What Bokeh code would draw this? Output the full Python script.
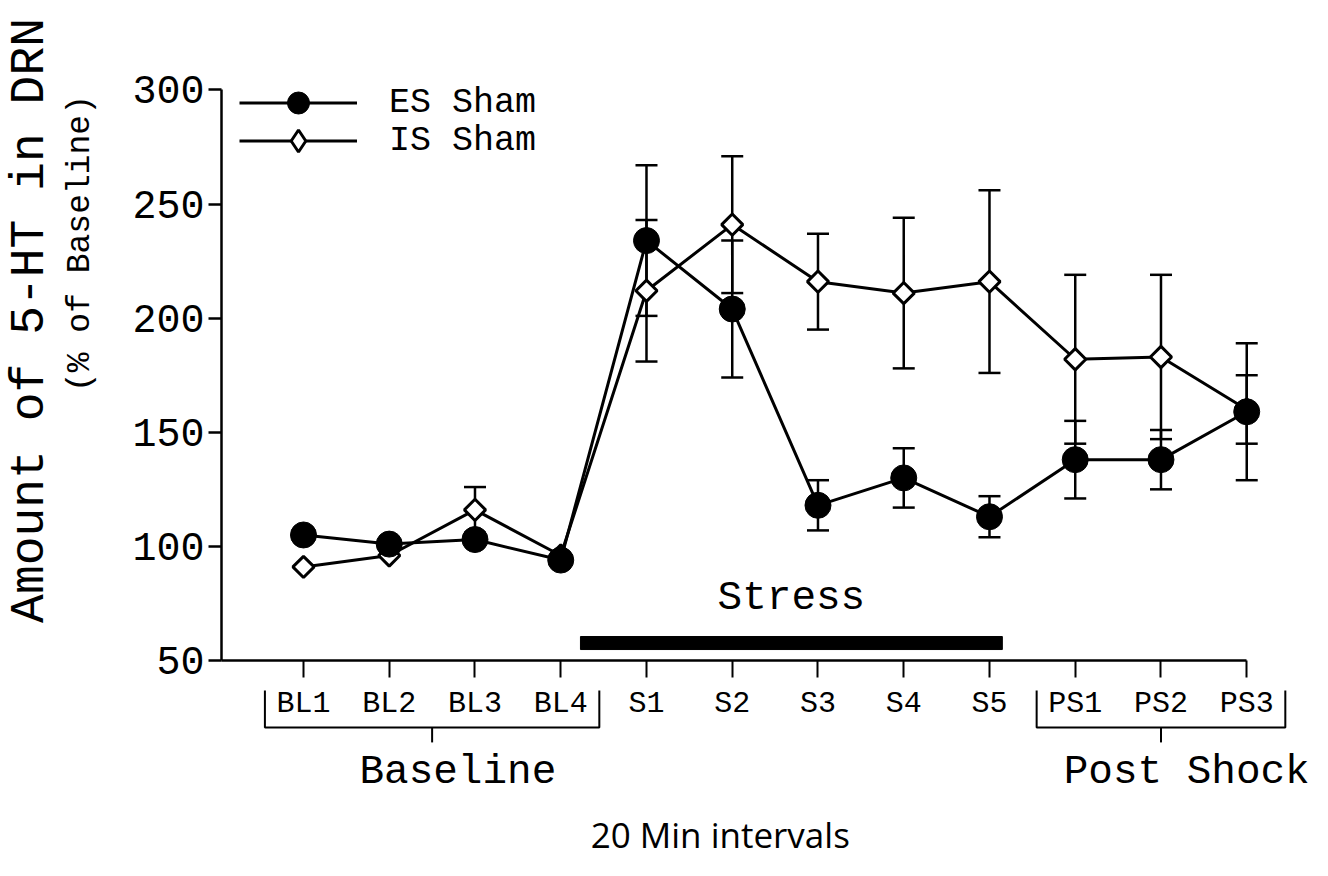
import numpy as np
from bokeh.plotting import figure
from bokeh.models import (ColumnDataSource, Range1d, FixedTicker, Whisker, TeeHead,
                          Legend, LegendItem)
from bokeh.core.properties import value
from bokeh.embed import file_html
from bokeh.resources import INLINE

# ---------------- data ----------------
categories = ["BL1", "BL2", "BL3", "BL4", "S1", "S2", "S3", "S4", "S5", "PS1", "PS2", "PS3"]
es_mean = [105, 101, 103, 94, 234, 204, 118, 130, 113, 138, 138, 159]
es_sem = [0, 0, 0, 0, 33, 30, 11, 13, 9, 17, 13, 30]
is_mean = [91, 96, 116, 96, 212, 241, 216, 211, 216, 182, 183, 160]
is_sem = [0, 0, 10, 0, 31, 30, 21, 33, 40, 37, 36, 15]
y_ticks = [50, 100, 150, 200, 250, 300]
series_names = ["ES Sham", "IS Sham"]
phase_groups = [("Baseline", "BL1", "BL4"), ("Post Shock", "PS1", "PS3")]
stress_phase = ("Stress", "S1", "S5")
x_title = "20 Min intervals"
y_title = "Amount of 5-HT in DRN"
y_subtitle = "(% of Baseline)"

MONO = "Liberation Mono"
INK = "#000000"

xs = list(range(1, len(categories) + 1))
pos = dict(zip(categories, xs))
y_axis_x = 0.044
y_min, y_max = y_ticks[0], y_ticks[-1]

p = figure(width=1312, height=860, output_backend="svg", toolbar_location=None,
           x_range=Range1d(-2.5335, 12.767), y_range=Range1d(-37.64, 339.2),
           min_border=0, outline_line_color=None, title=None)
p.xgrid.visible = False
p.ygrid.visible = False
p.background_fill_color = "white"
p.border_fill_color = "white"

# axes pinned at the data origin
xa = p.xaxis[0]
xa.fixed_location = y_min
xa.bounds = (y_axis_x, xs[-1])
xa.ticker = FixedTicker(ticks=xs)
xa.major_label_overrides = {x: c for x, c in zip(xs, categories)}
xa.major_label_text_font = MONO
xa.major_label_text_font_size = "30px"
xa.major_label_text_color = INK
xa.major_label_standoff = 10
xa.major_tick_out = 17
xa.major_tick_in = 0
xa.minor_tick_line_color = None
xa.axis_line_width = 2.5
xa.major_tick_line_width = 2
xa.axis_line_color = INK
xa.major_tick_line_color = INK

ya = p.yaxis[0]
ya.fixed_location = y_axis_x
ya.bounds = (y_min, y_max)
ya.ticker = FixedTicker(ticks=y_ticks)
ya.major_label_text_font = MONO
ya.major_label_text_font_size = "40px"
ya.major_label_text_color = INK
ya.major_label_standoff = 4
ya.major_tick_out = 13
ya.major_tick_in = 0
ya.minor_tick_line_color = None
ya.axis_line_width = 2.5
ya.major_tick_line_width = 2.5
ya.axis_line_color = INK
ya.major_tick_line_color = INK

# ---------------- error bars ----------------
def err_source(means, sems):
    keep = [i for i, s in enumerate(sems) if s > 0]
    return ColumnDataSource(dict(
        x=[xs[i] for i in keep],
        upper=[means[i] + sems[i] for i in keep],
        lower=[means[i] - sems[i] for i in keep]))

for means, sems in [(is_mean, is_sem), (es_mean, es_sem)]:
    w = Whisker(source=err_source(means, sems), base="x", upper="upper", lower="lower",
                dimension="height", line_color=INK, line_width=2.5, level="underlay",
                upper_head=TeeHead(size=22, line_width=2.5, line_color=INK),
                lower_head=TeeHead(size=22, line_width=2.5, line_color=INK))
    p.add_layout(w)

# ---------------- series ----------------
is_line = p.line(xs, is_mean, line_color=INK, line_width=3)
es_line = p.line(xs, es_mean, line_color=INK, line_width=3)
is_pts = p.scatter(xs, is_mean, marker="square", angle=np.pi / 4, size=15,
                   fill_color="white", line_color=INK, line_width=3)
es_pts = p.scatter(xs, es_mean, marker="circle", size=26,
                   fill_color=INK, line_color=INK, line_width=1)
# legend key for the open-diamond series (legend keys ignore marker angle)
is_key = p.scatter([np.nan], [np.nan], marker="diamond", size=24,
                   fill_color="white", line_color=INK, line_width=3)

legend_style = dict(padding=0, margin=0, spacing=0, glyph_width=118, glyph_height=55,
                    label_standoff=32, label_text_font=MONO, label_text_font_size="35px",
                    label_text_color=INK, border_line_color=None, background_fill_alpha=0)
legend_es = Legend(items=[LegendItem(label=series_names[0], renderers=[es_line, es_pts])],
                   location=(239, 730), **legend_style)
legend_is = Legend(items=[LegendItem(label=series_names[1], renderers=[is_line, is_key])],
                   location=(239, 692), **legend_style)
p.add_layout(legend_es)
p.add_layout(legend_is)

# ---------------- stress bar ----------------
s_name, s_from, s_to = stress_phase
p.quad(left=[pos[s_from] - 0.77], right=[pos[s_to] + 0.15], bottom=[54.8], top=[60.5],
       fill_color=INK, line_color=INK)
p.text(x=[(pos[s_from] - 0.77 + pos[s_to] + 0.15) / 2], y=[77.6], text=[s_name],
       text_font=value(MONO), text_font_size="41px", text_color=INK,
       text_align="center", text_baseline="middle")

# ---------------- phase brackets ----------------
pad, top_y, bar_y, tick_y = 0.45, 36.9, 20.6, 14.1
bx, by, tx, ty, lx, ly, lt = [], [], [], [], [], [], []
for name, a, b in phase_groups:
    x0, x1 = pos[a] - pad, pos[b] + pad
    mid = (x0 + x1) / 2
    bx.append([x0, x0, x1, x1]); by.append([top_y, bar_y, bar_y, top_y])
    tx.append([mid, mid]); ty.append([bar_y, tick_y])
    lx.append(mid + 0.3); ly.append(1.0); lt.append(name)
p.multi_line(bx, by, line_color=INK, line_width=2)
p.multi_line(tx, ty, line_color=INK, line_width=2)
p.text(x=lx, y=ly, text=lt, text_font=value(MONO), text_font_size="41px",
       text_color=INK, text_align="center", text_baseline="middle")

# ---------------- axis titles ----------------
p.text(x=[-2.184], y=[199], text=[y_title], angle=np.pi / 2, text_font=value(MONO),
       text_font_size="48px", text_color=INK, text_align="center", text_baseline="middle")
p.text(x=[-1.60], y=[232.7], text=[y_subtitle], angle=np.pi / 2, text_font=value(MONO),
       text_font_size="33px", text_color=INK, text_align="center", text_baseline="middle")
p.text(x=[5.86], y=[-26.25], text=[x_title], text_font=value("Open Sans"),
       text_font_size="35px", text_color=INK, text_align="center", text_baseline="middle")

open("out.html", "w").write(file_html(p, INLINE))
